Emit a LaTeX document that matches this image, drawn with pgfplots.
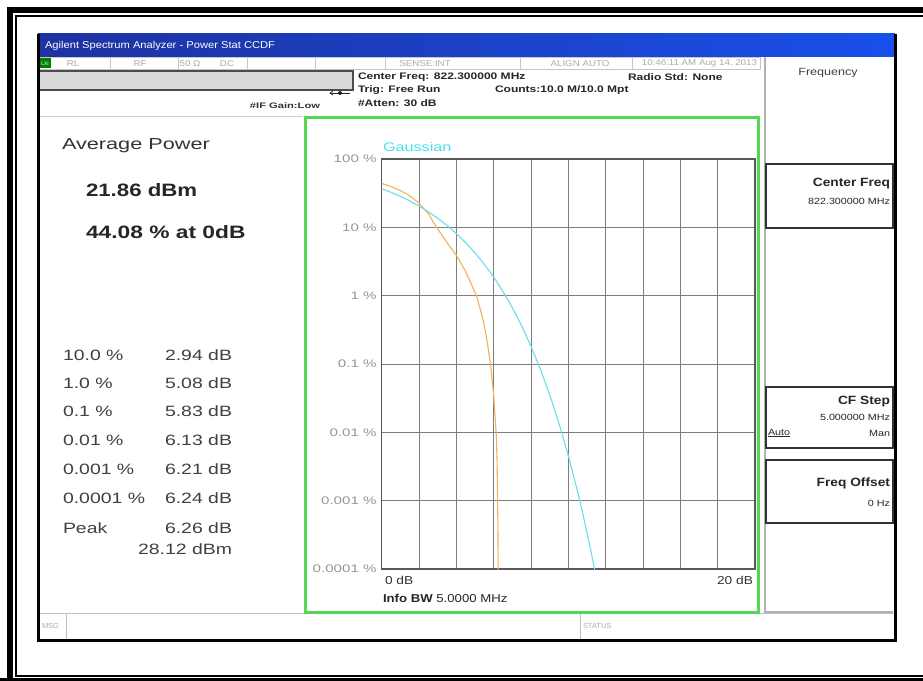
\documentclass[border=0pt]{standalone}
\usepackage{pgfplots}
\pgfplotsset{compat=1.18}
\usepackage{fontspec}
\setmainfont{Liberation Sans}
\definecolor{tbL}{RGB}{30,50,160}
\definecolor{tbR}{RGB}{25,80,235}
\definecolor{gfr}{RGB}{85,215,85}
\definecolor{orc}{RGB}{245,175,95}
\definecolor{cyc}{RGB}{110,220,235}
\definecolor{gau}{RGB}{70,225,240}
\definecolor{grd}{RGB}{125,125,125}
\definecolor{tkc}{RGB}{150,150,150}
\newcommand\fs[1]{\fontsize{#1}{#1}\selectfont}
\tikzset{t/.style={inner sep=0pt, outer sep=0pt}}
\begin{document}
\begin{tikzpicture}
\begin{scope}[x=1bp,y=-1bp]
\path[use as bounding box] (0,0) rectangle (923,681);
\fill[white] (0,0) rectangle (923,681);
% outer frame
\draw[line width=6bp] (930,10) -- (10,10) -- (10,690);
\draw[line width=6bp] (0,681) -- (930,681);
\draw[line width=2bp] (930,15.8) -- (15.8,15.8) -- (15.8,675.5) -- (930,675.5);
% screen
\fill[white] (38,34) rectangle (895,640);
\shade[left color=tbL, right color=tbR] (38,34) rectangle (895,57);
\node[t, anchor=west, text=white, font=\fs{10}, xscale=1.12] at (45,46) {Agilent Spectrum Analyzer - Power Stat CCDF};
% status row
\draw[gray!45, line width=0.8bp] (38,57) rectangle (760,69);
\foreach \xx in {110,178,247,315,385,520,632} {\draw[gray!45, line width=0.8bp] (\xx,57) -- (\xx,69);}
\fill[green!50!black] (39,58) rectangle (51,68.5);
\node[t, text=white, font=\fs{5}] at (45,63.3) {LXI};
\begin{scope}[every node/.style={t, text=gray!65, font=\fs{8.5}, xscale=1.15}]
\node at (73,63.3) {RL};
\node at (140,63.3) {RF};
\node at (190,63.3) {50 Ω};
\node at (227,63.3) {DC};
\node at (425,63.3) {SENSE:INT};
\node at (580,63.3) {ALIGN AUTO};
\node[anchor=east] at (757,63.3) {10:46:11 AM Aug 14, 2013};
\end{scope}
% gray bar
\fill[gray!30] (38,71) rectangle (353,90);
\draw[gray!60!black, line width=1.2bp] (38,71) rectangle (353,90);
% arrow icon
\draw[gray!30!black, line width=0.8bp] (330,93) -- (350,93);
\fill[gray!30!black] (340,93) circle (2);
\draw[gray!30!black, line width=0.8bp] (333,91) -- (330,93) -- (333,95);
% header texts
\begin{scope}[every node/.style={t, anchor=west, text=black!85, font=\bfseries\fs{9.5}, xscale=1.27}]
\node at (358,77) {Center Freq: 822.300000 MHz};
\node at (358,90) {Trig: Free Run};
\node at (358,103) {\#Atten: 30 dB};
\node at (495,90) {Counts:10.0 M/10.0 Mpt};
\node at (628,77) {Radio Std: None};
\end{scope}
\node[t, text=black!80, font=\bfseries\fs{8}, xscale=1.4] at (285,106) {\#IF Gain:Low};
% left panel
\draw[gray!40, line width=0.8bp] (38,116) -- (303,116);
\node[t, anchor=west, text=black!80, font=\fs{16}, xscale=1.36] at (62,146) {Average Power};
\node[t, anchor=west, text=black!85, font=\bfseries\fs{18}, xscale=1.24] at (86,190) {21.86 dBm};
\node[t, anchor=west, text=black!85, font=\bfseries\fs{18}, xscale=1.27] at (86,232) {44.08 \% at 0dB};
\begin{scope}[every node/.style={t, text=black!75, font=\fs{15}, xscale=1.3}]
\node[anchor=west] at (63,355) {10.0 \%}; \node[anchor=east] at (232,355) {2.94 dB};
\node[anchor=west] at (63,383) {1.0 \%}; \node[anchor=east] at (232,383) {5.08 dB};
\node[anchor=west] at (63,411) {0.1 \%}; \node[anchor=east] at (232,411) {5.83 dB};
\node[anchor=west] at (63,440) {0.01 \%}; \node[anchor=east] at (232,440) {6.13 dB};
\node[anchor=west] at (63,469) {0.001 \%}; \node[anchor=east] at (232,469) {6.21 dB};
\node[anchor=west] at (63,498) {0.0001 \%}; \node[anchor=east] at (232,498) {6.24 dB};
\node[anchor=west] at (63,528) {Peak}; \node[anchor=east] at (232,528) {6.26 dB};
\node[anchor=east] at (232,549) {28.12 dBm};
\end{scope}
% right panel
\draw[gray!60, line width=1.5bp] (765,57) -- (765,612) -- (893,612);
\node[t, text=black!75, font=\fs{10.5}, xscale=1.2] at (828,73) {Frequency};
\draw[gray!40!black, line width=1.4bp] (766,164) rectangle (893,228);
\draw[gray!40!black, line width=1.4bp] (766,387) rectangle (893,448);
\draw[gray!40!black, line width=1.4bp] (766,460) rectangle (893,523);
\begin{scope}[every node/.style={t, anchor=east, text=black!85}]
\node[font=\bfseries\fs{12}, xscale=1.15] at (890,184) {Center Freq};
\node[font=\fs{9}, xscale=1.2] at (890,201) {822.300000 MHz};
\node[font=\bfseries\fs{12}, xscale=1.15] at (890,402) {CF Step};
\node[font=\fs{9}, xscale=1.2] at (890,417) {5.000000 MHz};
\node[font=\fs{9}, xscale=1.2] at (890,433) {Man};
\node[font=\bfseries\fs{12}, xscale=1.15] at (890,483) {Freq Offset};
\node[font=\fs{9}, xscale=1.2] at (890,503) {0 Hz};
\end{scope}
\node[t, anchor=west, text=black!85, font=\fs{9}, xscale=1.2] at (768,433) {\underline{Auto}};
% bottom msg row
\draw[gray!50, line width=0.8bp] (38,613) -- (895,613);
\draw[gray!50, line width=0.8bp] (66,613) -- (66,640);
\draw[gray!50, line width=0.8bp] (580,613) -- (580,640);
\node[t, anchor=west, text=gray!65, font=\fs{7.5}] at (42,626) {MSG};
\node[t, anchor=west, text=gray!65, font=\fs{7.5}] at (583,626) {STATUS};
% screen border
\draw[black, line width=3bp] (38,34) -- (38,640) -- (895,640) -- (895,34);
\end{scope}
\begin{axis}[at={(381.7bp,-569bp)}, anchor=south west, scale only axis,
  width=373.3bp, height=410bp, ymode=log,
  xmin=0, xmax=20, ymin=1e-4, ymax=100,
  xtick={0,2,...,20}, xticklabels={},
  ytick={1e-4,1e-3,1e-2,1e-1,1,10,100},
  yticklabels={0.0001 \%,0.001 \%,0.01 \%,0.1 \%,1 \%,10 \%,100 \%},
  yticklabel style={font=\fs{11}, text=tkc, xscale=1.38, anchor=east, inner sep=1bp, xshift=-2.5bp},
  grid=major, major grid style={draw=grd, line width=0.8bp},
  tick style={draw=none}, minor tick style={draw=none},
  axis line style={draw=black!65, line width=1.1bp},
  clip=true]
\addplot[orc, line width=1.1bp] coordinates {
(0,44.08) (0.5,39.5) (1,34.5) (1.5,29) (2,22.5) (2.5,15.8) (2.94,10)
(3.5,6.0) (4,3.9) (4.5,2.25) (5.08,1.0) (5.4,0.48) (5.6,0.26) (5.83,0.1)
(6.0,0.035) (6.13,0.01) (6.18,0.004) (6.21,0.001) (6.23,0.0003) (6.24,0.0001) (6.26,0.00005)};
\addplot[cyc, line width=1.1bp] coordinates {
(0,36.79) (0.5,32.56) (1,28.40) (1.5,24.35) (2,20.49) (2.5,16.89) (3,13.60)
(3.5,10.66) (4,8.11) (4.5,5.97) (5,4.232) (5.5,2.879) (6,1.867) (6.5,1.148)
(7,0.6652) (7.5,0.3609) (8,0.1817) (8.5,0.0842) (9,0.03548) (9.5,0.01346)
(10,0.00454) (10.5,0.00134) (10.75,0.000689) (11,0.00034) (11.2,0.000189)
(11.4,0.000101) (11.5,0.000073)};
\end{axis}
\begin{scope}[x=1bp,y=-1bp]
\draw[gfr, line width=3bp] (305,117.5) rectangle (758.5,612);
\node[t, anchor=west, text=gau, font=\fs{12.5}, xscale=1.3] at (383,147) {Gaussian};
\node[t, anchor=west, text=black!80, font=\fs{11.5}, xscale=1.2] at (385,580) {0 dB};
\node[t, anchor=east, text=black!80, font=\fs{11.5}, xscale=1.2] at (753,580) {20 dB};
\node[t, anchor=west, text=black!85, font=\fs{11.5}, xscale=1.15] at (383,598) {\textbf{Info BW} 5.0000 MHz};
\end{scope}
\end{tikzpicture}
\end{document}
